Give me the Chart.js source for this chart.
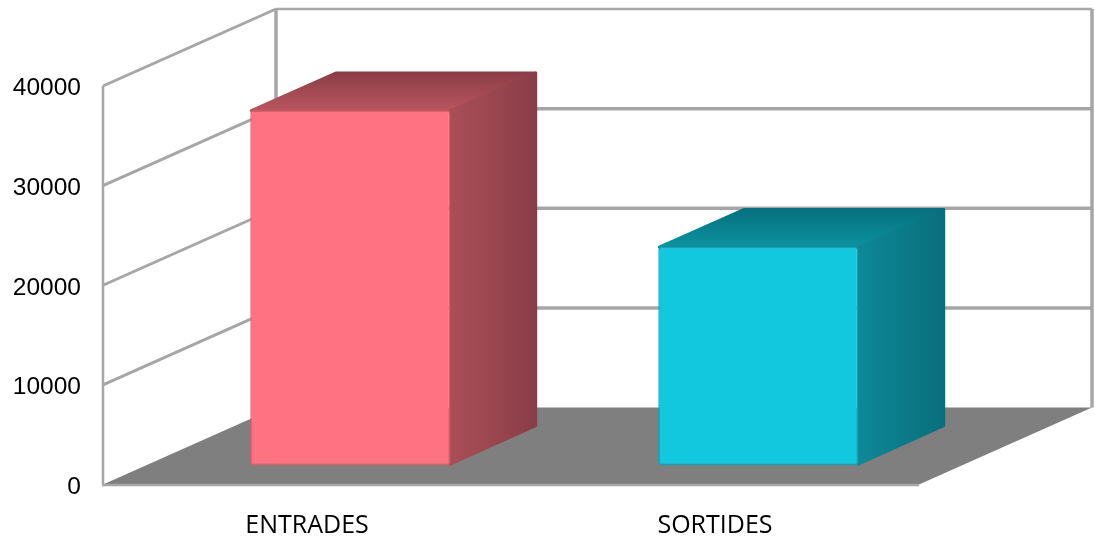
<!DOCTYPE html>
<html lang="en">
<head>
    <meta charset="UTF-8">
    <title>Entrades i sortides</title>
    <script src="https://cdnjs.cloudflare.com/ajax/libs/Chart.js/4.4.1/chart.umd.min.js"></script>
    <style>
        body { margin: 0; background: #fff; }
    </style>
</head>
<body>
<canvas id="myChart" width="1095" height="538"></canvas>
<script>

    const categories = ["ENTRADES", "SORTIDES"];
    const values = [35600, 21900];
    const yTicks = [0, 10000, 20000, 30000, 40000];

    const barColors = ["#ff7282", "#12c8de"];
    const barEdges = ["#d95f6c", "#0ea5b8"];
    const sideColors = [["#aa4f59", "#8a3d47"], ["#0e8898", "#086f7d"]];
    const topColors = [["#8c3e48", "#b9565f"], ["#08707e", "#0b929f"]];

    const wallColor = "#a6a6a6";
    const floorColor = "#7f7f7f";

    // 3d offset of the back wall, in pixels
    const depthX = 173;
    const depthY = 77;

    function polygon(ctx, points) {
        ctx.beginPath();
        points.forEach((p, i) => i ? ctx.lineTo(p[0], p[1]) : ctx.moveTo(p[0], p[1]));
        ctx.closePath();
    }

    function line(ctx, points, width) {
        ctx.beginPath();
        points.forEach((p, i) => i ? ctx.lineTo(p[0], p[1]) : ctx.moveTo(p[0], p[1]));
        ctx.strokeStyle = wallColor;
        ctx.lineWidth = width;
        ctx.stroke();
    }

    // floor and walls, built from the y scale
    const walls = {
        id: "walls",
        beforeDatasetsDraw(chart) {
            const ctx = chart.ctx;
            const x = chart.scales.x;
            const y = chart.scales.y;
            const zero = y.getPixelForValue(0);
            const top = y.getPixelForValue(yTicks[yTicks.length - 1]);
            ctx.save();

            yTicks.slice(1).forEach(v => {
                const py = y.getPixelForValue(v);
                const last = v === yTicks[yTicks.length - 1];
                line(ctx, [[x.left, py], [x.left + depthX, py - depthY]], 3);
                line(ctx, [[x.left + depthX, py - depthY], [x.right + depthX, py - depthY]], last ? 2.5 : 3.5);
            });
            line(ctx, [[x.left, zero], [x.left, top]], 2.5);
            line(ctx, [[x.left + depthX, zero - depthY], [x.left + depthX, top - depthY]], 3.5);
            line(ctx, [[x.right + depthX, zero - depthY], [x.right + depthX, top - depthY]], 3.5);

            polygon(ctx, [[x.left, zero], [x.right, zero], [x.right + depthX, zero - depthY], [x.left + depthX, zero - depthY]]);
            ctx.fillStyle = floorColor;
            ctx.fill();
            line(ctx, [[x.left - 1, zero + 0.5], [x.right, zero + 0.5]], 2.5);
            ctx.restore();
        }
    };

    // moves the bars to the middle of the floor and adds their top and side
    const boxes = {
        id: "boxes",
        beforeDatasetDraw(chart, args) {
            const ctx = chart.ctx;
            ctx.save();
            ctx.translate(depthX / 4, -depthY / 4);
            const dx = depthX / 2 - 1;
            const dy = depthY / 2 - 1;
            ctx.lineJoin = "round";
            args.meta.data.forEach((bar, i) => {
                const b = bar.getProps(["x", "y", "base", "width"]);
                const l = b.x - b.width / 2;
                const r = b.x + b.width / 2;

                const top = ctx.createLinearGradient(0, b.y - dy, 0, b.y);
                top.addColorStop(0, topColors[i][0]);
                top.addColorStop(1, topColors[i][1]);
                polygon(ctx, [[l + 1, b.y], [l + dx, b.y - dy], [r + dx, b.y - dy], [r, b.y]]);
                ctx.fillStyle = top;
                ctx.strokeStyle = top;
                ctx.lineWidth = 3;
                ctx.fill();
                ctx.stroke();

                const side = ctx.createLinearGradient(r, 0, r + dx, 0);
                side.addColorStop(0, sideColors[i][0]);
                side.addColorStop(1, sideColors[i][1]);
                polygon(ctx, [[r, b.y], [r + dx, b.y - dy], [r + dx, b.base - dy - 2], [r, b.base - 1]]);
                ctx.fillStyle = side;
                ctx.strokeStyle = side;
                ctx.fill();
                ctx.stroke();
            });
        },
        afterDatasetDraw(chart) {
            chart.ctx.restore();
        }
    };

    new Chart("myChart", {
        type: "bar",
        data: {
            labels: categories,
            datasets: [{
                data: values,
                backgroundColor: barColors,
                borderColor: barEdges,
                borderWidth: 1.5,
                borderRadius: 3,
                borderSkipped: false,
                categoryPercentage: 1,
                barPercentage: 0.49,
                clip: false
            }]
        },
        plugins: [walls, boxes],
        options: {
            responsive: false,
            animation: false,
            layout: { padding: { top: 86, right: 176 } },
            plugins: {
                legend: { display: false },
                tooltip: { enabled: false }
            },
            scales: {
                x: {
                    afterFit(scale) { scale.height = 53.5; },
                    grid: { display: false },
                    border: { display: false },
                    ticks: {
                        padding: 18,
                        maxRotation: 0,
                        color: "#000",
                        font: { family: "'Open Sans'", size: 25 }
                    }
                },
                y: {
                    min: 0,
                    max: 40000,
                    afterFit(scale) { scale.width = 103; },
                    afterBuildTicks(scale) { scale.ticks = yTicks.map(v => ({ value: v })); },
                    grid: { display: false },
                    border: { display: false },
                    ticks: {
                        padding: 14,
                        labelOffset: 2.5,
                        color: "#000",
                        font: { family: "'Liberation Sans'", size: 24.5 },
                        callback: v => String(v)
                    }
                }
            }
        }
    });
</script>
</body>
</html>
